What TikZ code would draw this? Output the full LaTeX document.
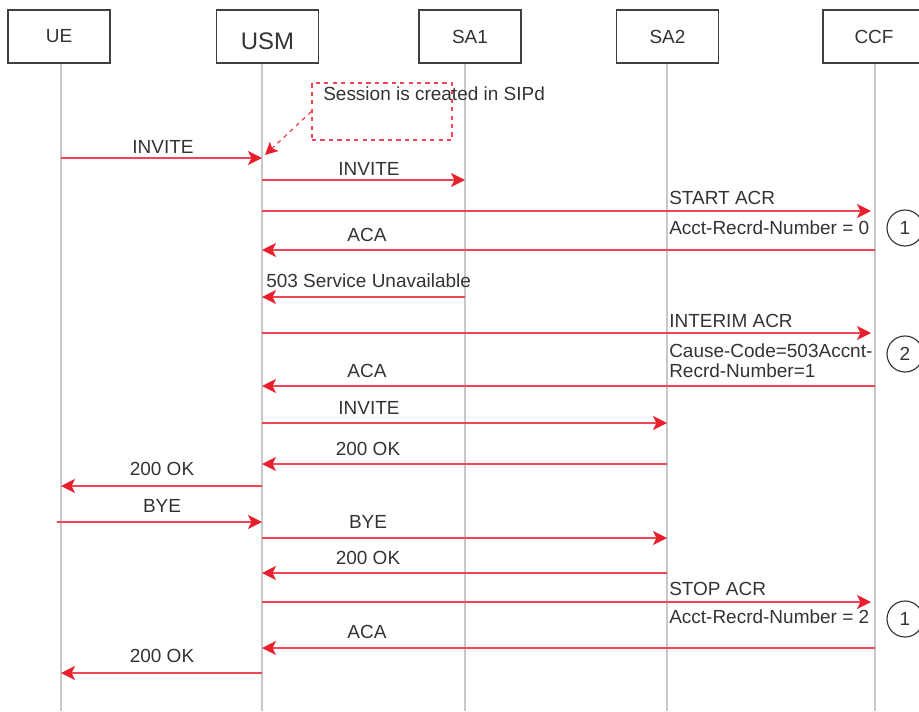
\documentclass[tikz,border=0pt]{standalone}
\usepackage{fontspec}
\setmainfont{Liberation Sans}
\usepackage{tikz}
\usetikzlibrary{arrows.meta,positioning,calc}
\definecolor{msgred}{HTML}{F04656}
\definecolor{tipred}{HTML}{E8202E}
\definecolor{bk80}{HTML}{333333}
\definecolor{bk70}{HTML}{404040}
\definecolor{life}{HTML}{C8C8C8}
\tikzset{
  lifebox/.style={
    rectangle, draw=bk70, line width=1.2pt, fill=white,
    minimum width=2.55cm, minimum height=1.325cm,
    font=\fontsize{13.5}{16}\selectfont, text=bk80,
    inner sep=0pt
  },
  lifeline/.style={draw=life, line width=0.8pt},
  msg/.style={
    draw=msgred, line width=1.3pt,
    -{Stealth[length=10pt, width=10pt, inset=2.5pt, fill=tipred, color=tipred]}
  },
  msglbl/.style={font=\fontsize{13.5}{16}\selectfont, text=bk80, inner sep=0pt},
  notebox/.style={rectangle, draw=msgred, dashed, line width=0.9pt,
    minimum width=3.5cm, minimum height=1.425cm, inner sep=0pt},
  notearrow/.style={draw=msgred, dashed, line width=0.9pt,
    -{Stealth[length=9pt, width=9pt, inset=2pt, fill=tipred, color=tipred]}},
  numcircle/.style={circle, draw=bk80, line width=0.8pt, minimum size=0.9cm,
    inner sep=0pt, font=\fontsize{13.5}{16}\selectfont, text=bk80},
}

\begin{document}
\begin{tikzpicture}[x=0.025cm, y=-0.025cm]
  \useasboundingbox (0,0) rectangle (919,711);
  \clip (0,0) rectangle (919,711);
  % lifelines
  \foreach \n/\lx in {ue/61, usm/262, sa1/465, sa2/667, ccf/875} {
    \coordinate (\n) at (\lx,63);
    \draw[lifeline] (\n) -- (\n |- 0,711);
  }
  % boxes on top
  \node[lifebox] at (59,36.5) (ueBox) {UE};
  \node[lifebox] at (267.5,36.5) (usmBox) {};
  \node[msglbl, font=\fontsize{17}{20}\selectfont] at (267.5,41) (usmTxt) {USM};
  \node[lifebox] at (470,36.5) (sa1Box) {SA1};
  \node[lifebox] at (667.5,36.5) (sa2Box) {SA2};
  \node[lifebox] at (874,36.5) (ccfBox) {CCF};

  % note
  \node[notebox] at (382,111.5) (note) {};
  \node[msglbl, anchor=west] at (323,94) (noteTxt) {Session is created in SIPd};
  \coordinate (noteTip) at (265,155);
  \draw[notearrow] (note.west) -- (noteTip);

  % messages: arrow y / from / to / label x / label y / text
  \foreach \y/\a/\b/\lx/\ly/\t in {
      158/ue/usm/163/147/INVITE,
      180/usm/sa1/369/169/INVITE,
      250/ccf/usm/367/235/ACA,
      386/ccf/usm/367/371/ACA,
      423/usm/sa2/369/408/INVITE,
      464/sa2/usm/368/449/200 OK,
      486/usm/ue/162/469/200 OK,
      538/usm/sa2/368/522/BYE,
      573/sa2/usm/368/558/200 OK,
      648/ccf/usm/367/632/ACA,
      673/usm/ue/162/656/200 OK} {
    \draw[msg] (\a |- 0,\y) -- (\b |- 0,\y);
    \node[msglbl] at (\lx,\ly) {\t};
  }
  \draw[msg] ([xshift=-0.1cm]ue |- 0,522) -- (usm |- 0,522);
  \node[msglbl] at (162,506) (byeLbl) {BYE};

  \draw[msg] (sa1 |- 0,297) -- (usm |- 0,297);
  \node[msglbl, anchor=west] at (266,281) (naLbl) {503 Service Unavailable};

  % accounting requests
  \draw[msg] (usm |- 0,211) -- ([xshift=-0.1cm]ccf |- 0,211);
  \node[msglbl, anchor=west] at (669,198) (startLbl) {START ACR};
  \node[msglbl, anchor=west] at (669,228) (startNum) {Acct-Recrd-Number = 0};
  \node[numcircle] at (905,228) (c1) {1};

  \draw[msg] (usm |- 0,333) -- ([xshift=-0.1cm]ccf |- 0,333);
  \node[msglbl, anchor=west] at (669,321) (interimLbl) {INTERIM ACR};
  \node[msglbl, anchor=west, align=left] at (669,360.5) (interimNum)
    {Cause-Code=503Accnt-\\[-1.5pt]Recrd-Number=1};
  \node[numcircle] at (905,354) (c2) {2};

  \draw[msg] (usm |- 0,602) -- ([xshift=-0.1cm]ccf |- 0,602);
  \node[msglbl, anchor=west] at (669,589) (stopLbl) {STOP ACR};
  \node[msglbl, anchor=west] at (669,617) (stopNum) {Acct-Recrd-Number = 2};
  \node[numcircle] at (905,619) (c3) {1};
\end{tikzpicture}
\end{document}
